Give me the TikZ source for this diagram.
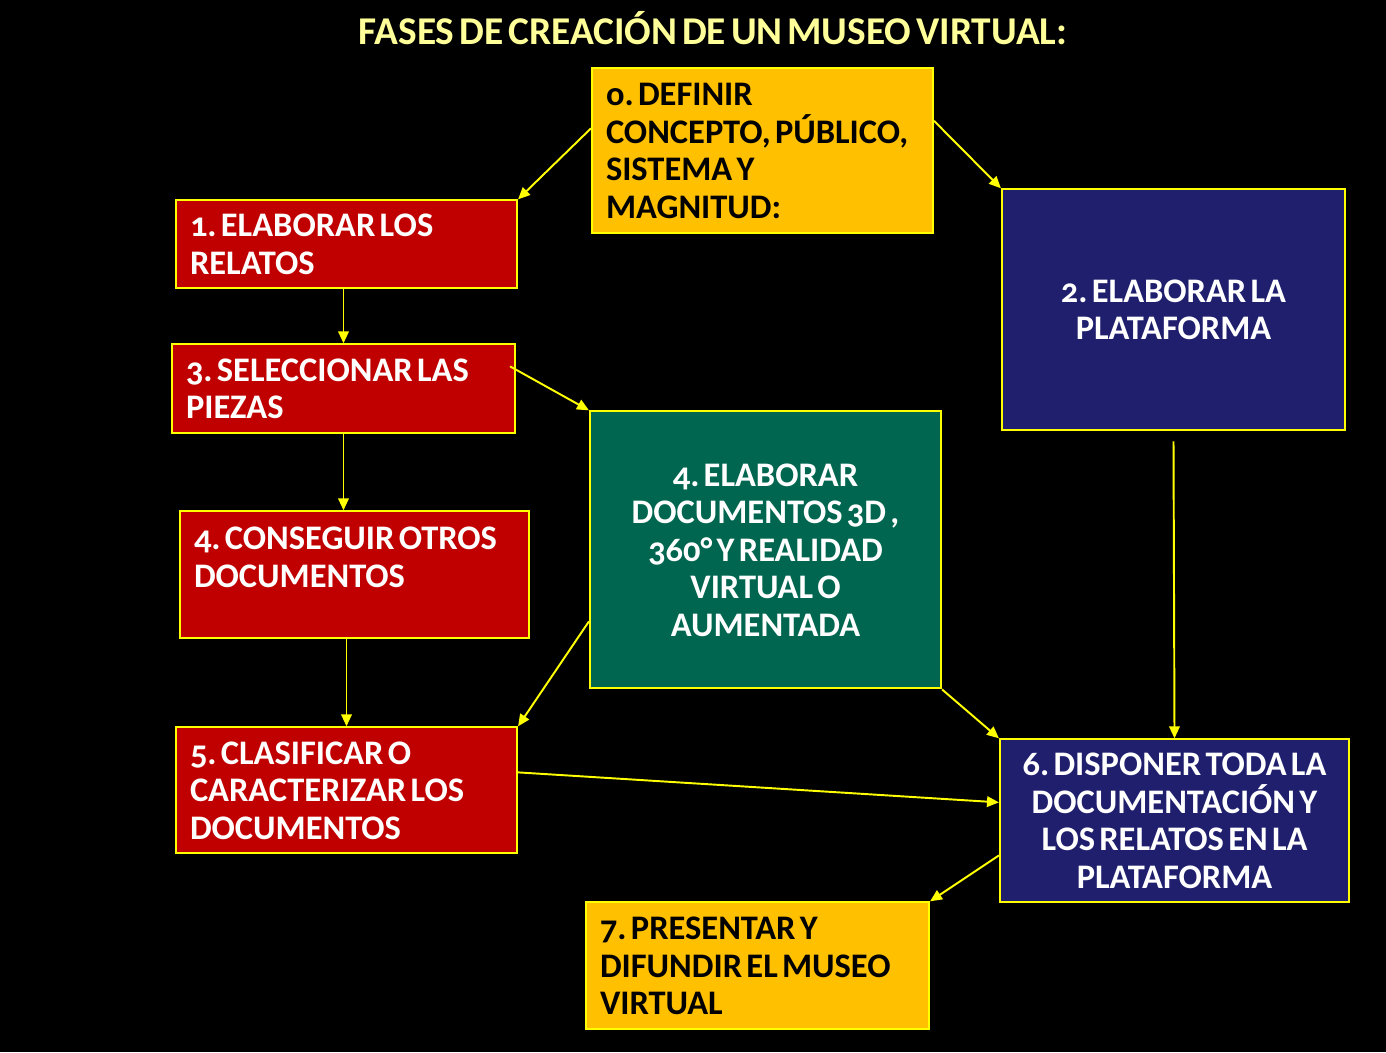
\documentclass[tikz,border=0pt]{standalone}
\usepackage{fontspec}
\setmainfont{Carlito}[Numbers=OldStyle, WordSpace=0.55]
\frenchspacing
\usetikzlibrary{arrows.meta}
\definecolor{boxyellow}{HTML}{FFC000}
\definecolor{boxred}{HTML}{C00000}
\definecolor{boxnavy}{HTML}{1F1F6E}
\definecolor{boxgreen}{HTML}{00664F}
\definecolor{edgeyellow}{HTML}{FFFF00}
\definecolor{titleyellow}{HTML}{FFFF99}

\begin{document}
\begin{tikzpicture}[
		phase/.style={draw=edgeyellow, line width=0.6pt, inner xsep=0.14cm, inner ysep=0pt,
			font=\bfseries\fontsize{9.8}{10.67}\selectfont},
		leftphase/.style={phase, align=flush left},
		midphase/.style={phase, align=flush center},
		flow/.style={draw=edgeyellow, line width=0.55pt, -{Triangle[length=3.4pt,width=3pt]}}
	]
		\fill[black] (0, 0) rectangle (13.86, -10.52);
		\node[font=\bfseries\fontsize{11.2}{12}\selectfont, text=titleyellow] (title) at (7.13, -0.28) {FASES DE CREACIÓN DE UN MUSEO VIRTUAL:};
		% boxes
		\node[leftphase, fill=boxyellow, text=black, minimum width=3.41cm, minimum height=1.65cm, text width=3.13cm] (define) at (7.625, -1.505) {o. DEFINIR\\CONCEPTO, PÚBLICO,\\SISTEMA Y\\MAGNITUD:};
		\node[leftphase, fill=boxred, text=white, minimum width=3.41cm, minimum height=0.88cm, text width=3.13cm] (stories) at (3.465, -2.44) {1. ELABORAR LOS\\RELATOS};
		\node[midphase, fill=boxnavy, text=white, minimum width=3.43cm, minimum height=2.41cm, text width=3.15cm] (platform) at (11.735, -3.095) {2. ELABORAR LA\\PLATAFORMA};
		\node[leftphase, fill=boxred, text=white, minimum width=3.43cm, minimum height=0.89cm, text width=3.15cm] (pieces) at (3.435, -3.885) {3. SELECCIONAR LAS\\PIEZAS};
		\node[midphase, fill=boxgreen, text=white, minimum width=3.51cm, minimum height=2.77cm, text width=3.23cm] (virtual) at (7.655, -5.495) {4. ELABORAR\\DOCUMENTOS 3D ,\\360° Y REALIDAD\\VIRTUAL O\\AUMENTADA};
		\node[phase, fill=boxred, minimum width=3.49cm, minimum height=1.27cm] (others) at (3.545, -5.745) {};
		\node[leftphase, draw=none, text=white, anchor=north west, text width=3.21cm] (otherstext) at ([yshift=-0.16cm]others.north west) {4. CONSEGUIR OTROS\\DOCUMENTOS};
		\node[leftphase, fill=boxred, text=white, minimum width=3.41cm, minimum height=1.26cm, text width=3.13cm] (classify) at (3.465, -7.90) {5. CLASIFICAR O\\CARACTERIZAR LOS\\DOCUMENTOS};
		\node[midphase, fill=boxnavy, text=white, minimum width=3.49cm, minimum height=1.63cm, text width=3.21cm] (arrange) at (11.745, -8.205) {6. DISPONER TODA LA\\DOCUMENTACIÓN Y\\LOS RELATOS EN LA\\PLATAFORMA};
		\node[leftphase, fill=boxyellow, text=black, minimum width=3.43cm, minimum height=1.27cm, text width=3.15cm] (present) at (7.575, -9.655) {7. PRESENTAR Y\\DIFUNDIR EL MUSEO\\VIRTUAL};
		% arrows
		\draw[flow] ([yshift=0.225cm]define.west) -- (stories.north east);
		\draw[flow] ([yshift=0.30cm]define.east) -- (platform.north west);
		\draw[flow] (pieces.north |- stories.south) -- (pieces.north);
		\draw[flow] ([xshift=-0.06cm, yshift=0.225cm]pieces.east) -- (virtual.north west);
		\draw[flow] (pieces.south) -- (pieces.south |- others.north);
		\draw[flow] (classify.north |- others.south) -- (classify.north);
		\draw[flow] ([yshift=-0.715cm]virtual.west) -- (classify.north east);
		\draw[flow] (virtual.south east) -- (arrange.north west);
		\draw[flow] ([yshift=-0.10cm]platform.south) -- (arrange.north);
		\draw[flow] ([yshift=0.18cm]classify.east) -- ([yshift=0.185cm]arrange.west);
		\draw[flow] ([yshift=-0.345cm]arrange.west) -- (present.north east);
	\end{tikzpicture}
\end{document}
